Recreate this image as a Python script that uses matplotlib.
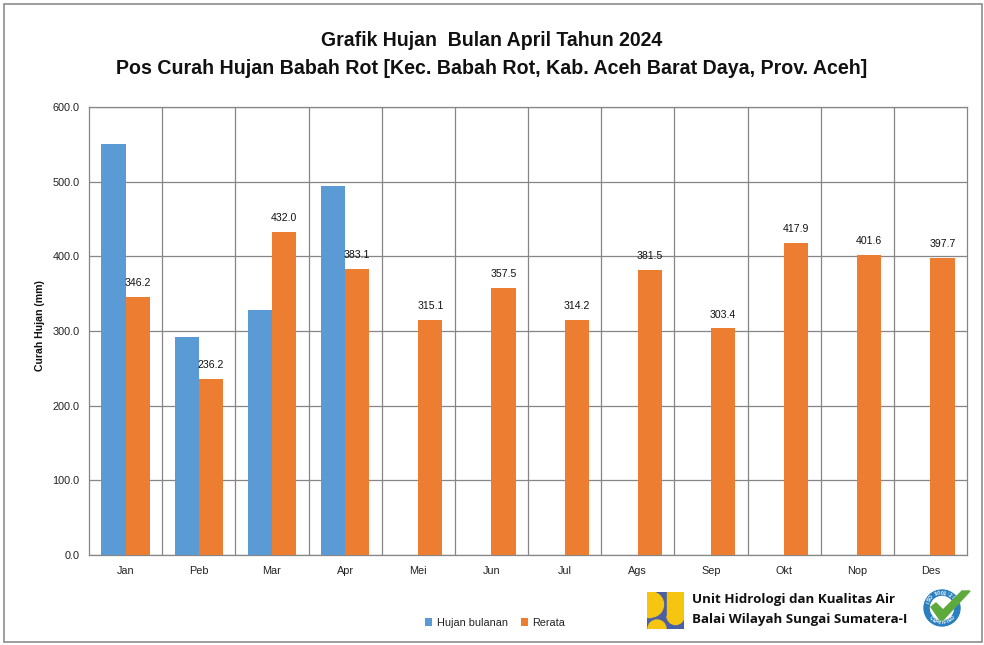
import matplotlib
matplotlib.use('Agg')
import matplotlib.pyplot as plt
from matplotlib.patches import Rectangle, Circle, Wedge, Polygon
import numpy as np

plt.rcParams['font.family'] = ['Liberation Sans', 'DejaVu Sans']

W, H = 984, 645

months = ['Jan', 'Peb', 'Mar', 'Apr', 'Mei', 'Jun', 'Jul', 'Ags', 'Sep', 'Okt', 'Nop', 'Des']
hujan = [550.0, 292.0, 328.0, 494.0]
rerata = [346.2, 236.2, 432.0, 383.1, 315.1, 357.5, 314.2, 381.5, 303.4, 417.9, 401.6, 397.7]

blue = '#5B9BD5'
orange = '#ED7D31'
grid = '#868686'

def fig_axes(x0, y0, x1, y1):
    # pixel box, y from the top
    return fig.add_axes([x0 / W, 1 - y1 / H, (x1 - x0) / W, (y1 - y0) / H])

fig = plt.figure(figsize=(W / 100, H / 100), dpi=100, facecolor='white')

# outer frame
fig.add_artist(Rectangle((3.5 / W, 1 - 641.5 / H), 978 / W, 638 / H, transform=fig.transFigure,
                         fill=False, edgecolor='#8c8c8c', linewidth=1.2))

ax = fig_axes(89, 107, 967, 555)
x = np.arange(len(months))
w = 0.33
ax.bar(x[:len(hujan)] - w / 2, hujan, w, color=blue, label='Hujan bulanan', zorder=3)
ax.bar(x + w / 2, rerata, w, color=orange, label='Rerata', zorder=3)

for xi, v in zip(x, rerata):
    ax.text(xi + w / 2, v + 12, f'{v:.1f}', ha='center', va='bottom', fontsize=7.6, color='#111111', zorder=4)

ax.set_xlim(-0.5, 11.5)
ax.set_ylim(0, 600)
ax.set_yticks(np.arange(0, 601, 100))
ax.set_yticklabels([f'{v:.1f}' for v in np.arange(0, 601, 100)], fontsize=7.8, color='#222222')
ax.set_xticks(x)
ax.set_xticklabels(months, fontsize=7.8, color='#222222')
ax.tick_params(axis='both', length=0)
ax.tick_params(axis='x', pad=8)
ax.tick_params(axis='y', pad=7)
ax.set_ylabel('Curah Hujan (mm)', fontsize=7.6, fontweight='bold', color='#111111')
ax.yaxis.set_label_coords(-44 / 878, 0.513)
ax.set_xticks(np.arange(0.5, 11.5, 1), minor=True)
ax.tick_params(axis='x', which='minor', length=0)
ax.grid(True, axis='y', color=grid, linewidth=0.9, zorder=0)
ax.grid(True, axis='x', which='minor', color=grid, linewidth=0.9, zorder=0)
ax.grid(False, axis='x', which='major')
for s in ax.spines.values():
    s.set_color(grid)
    s.set_linewidth(0.9)

fig.text(492 / W, 1 - 40 / H, 'Grafik Hujan  Bulan April Tahun 2024', ha='center', va='center',
         fontsize=14.05, fontweight='bold', color='#111111')
fig.text(492 / W, 1 - 68 / H, 'Pos Curah Hujan Babah Rot [Kec. Babah Rot, Kab. Aceh Barat Daya, Prov. Aceh]',
         ha='center', va='center', fontsize=14.1, fontweight='bold', color='#111111')

fig.legend(*ax.get_legend_handles_labels(), loc='center', bbox_to_anchor=(495 / W, 1 - 623 / H), ncol=2,
           frameon=False, fontsize=7.8, handlelength=0.65, handleheight=0.7, columnspacing=1.2, handletextpad=0.4,
           labelcolor='#222222')

# PU logo
lg = fig_axes(647, 592, 684, 629)
lg.set_xlim(0, 37)
lg.set_ylim(37, 0)
lg.axis('off')
lg.add_patch(Rectangle((0, 0), 37, 37, color='#4A5FA5'))
lg.add_patch(Rectangle((0, 0), 4, 25, color='#F6C510'))
lg.add_patch(Wedge((4, 12.5), 12.5, -90, 90, color='#F6C510'))
lg.add_patch(Rectangle((20, 0), 17, 24, color='#F6C510'))
lg.add_patch(Wedge((28.5, 24), 8.5, 0, 180, color='#F6C510'))
lg.add_patch(Wedge((10, 37), 9, 180, 360, color='#F6C510'))

fig.text(692 / W, 1 - 600 / H, 'Unit Hidrologi dan Kualitas Air', ha='left', va='center', fontsize=9.65,
         fontweight='bold', family=['Open Sans', 'DejaVu Sans'], color='#111111')
fig.text(692 / W, 1 - 620 / H, 'Balai Wilayah Sungai Sumatera-I', ha='left', va='center', fontsize=9.65,
         fontweight='bold', family=['Open Sans', 'DejaVu Sans'], color='#111111')

# ISO badge
bd = fig_axes(920, 586, 974, 630)
bd.set_xlim(920, 974)
bd.set_ylim(630, 586)
bd.axis('off')
cx, cy = 942, 608
bd.add_patch(Circle((cx, cy), 18, color='#2B7FBF'))
bd.add_patch(Circle((cx, cy), 11.5, color='white'))
for text, start, step in [('ISO 9001:2008', 160, -11.5), ('CERTIFIED', 225, 11.5)]:
    for i, ch in enumerate(text):
        # angle measured from +x, y axis of this box points down
        a = np.radians(start + step * i)
        tx, ty = cx + 14.8 * np.cos(a), cy - 14.8 * np.sin(a)
        rot = np.degrees(a) - 90 if step < 0 else np.degrees(a) + 90
        bd.text(tx, ty, ch, fontsize=3.6, fontweight='bold', color='white', ha='center', va='center', rotation=rot)
bd.add_patch(Polygon([(931, 607), (936, 603), (943, 610), (962, 591), (970, 591), (943, 620), (940, 620)],
                     color='#5DAA3C', zorder=5))

fig.savefig('out.png', dpi=100, facecolor='white')
